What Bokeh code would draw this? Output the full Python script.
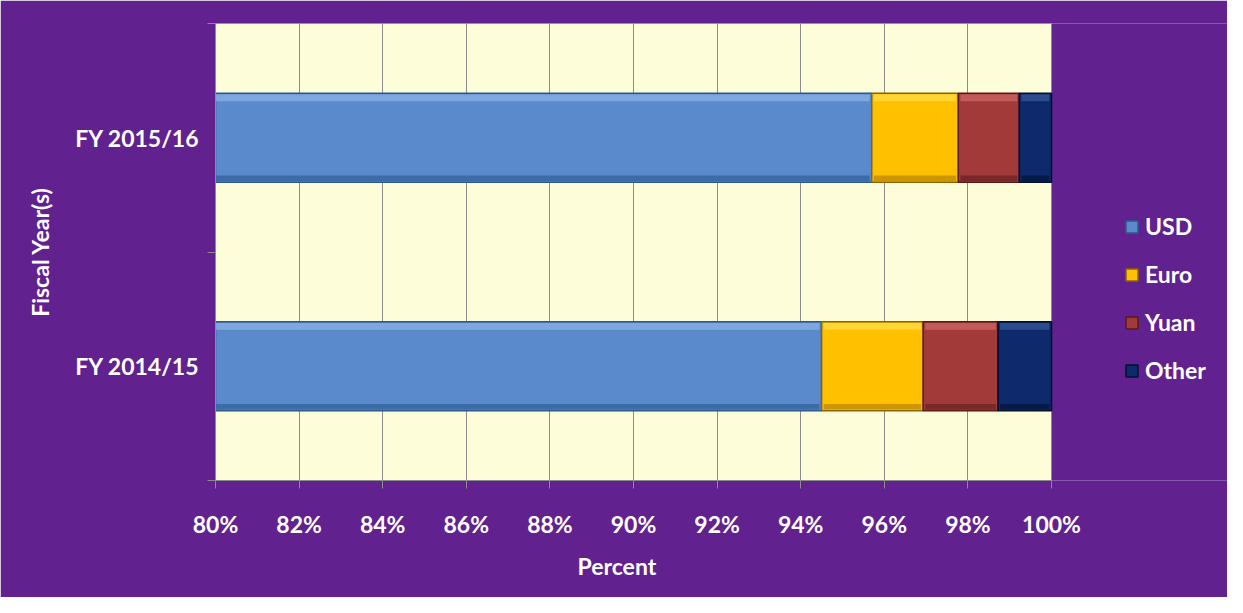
import numpy as np
from bokeh.plotting import figure
from bokeh.models import FixedTicker, PrintfTickFormatter, Legend, LegendItem, Range1d, ColumnDataSource, Title
from bokeh.embed import file_html
from bokeh.resources import INLINE

years = ["FY 2014/15", "FY 2015/16"]
currencies = ["USD", "Euro", "Yuan", "Other"]
usd = [94.5, 95.7]
euro = [2.43, 2.07]
yuan = [1.79, 1.46]
other = [1.28, 0.77]
x_ticks = [80, 82, 84, 86, 88, 90, 92, 94, 96, 98, 100]

colors = ["#5A8ACB", "#FFC000", "#A33A3A", "#0E2A6C"]
light = ["#8DB4E8", "#FFE04A", "#D06A6A", "#3A5A9E"]
dark = ["#33649F", "#C08A00", "#6E2424", "#05173F"]
edge = ["#2E5890", "#8A6400", "#5A1A1A", "#03102E"]

FONT = "Lato"
FS = "23px"
BAR_H = 0.39
PURPLE = "#61218F"

# layout: plot area 836 px wide for the 80-100 span; frame extends further right for the legend
W, H = 1227, 597
LEFT, RIGHT, TOP, BOTTOM = 215, 0, 23, 117
AREA_PX = 836
x0, x1 = x_ticks[0], x_ticks[-1]
frame_px = W - LEFT - RIGHT
x_end = x0 + (x1 - x0) * frame_px / AREA_PX

pos = [i + 0.5 for i in range(len(years))]
data = dict(y=pos, USD=usd, Euro=euro, Yuan=yuan, Other=other)
src = ColumnDataSource(data)

p = figure(width=W, height=H, output_backend="svg", toolbar_location=None,
           x_range=Range1d(x0, x_end), y_range=Range1d(0, len(years)),
           min_border_left=LEFT, min_border_right=RIGHT, min_border_top=TOP, min_border_bottom=BOTTOM)

p.background_fill_color = PURPLE
p.border_fill_color = PURPLE
p.outline_line_color = None

# plot area
p.quad(left=[x0], right=[x1], bottom=[0], top=[len(years)], fill_color="#FDFDD9",
       line_color="#9A9A9A", line_width=1, level="underlay")

p.xaxis.ticker = FixedTicker(ticks=x_ticks)
p.xaxis.formatter = PrintfTickFormatter(format="%d%%")
p.xaxis.bounds = (x0, x1)
p.xgrid.ticker = FixedTicker(ticks=x_ticks)
p.xgrid.grid_line_color = "#8C8C8C"
p.ygrid.grid_line_color = None

renderers = p.hbar_stack(currencies, y="y", height=BAR_H, source=src,
                         color=colors, line_color=edge, line_width=1.5)
for r, c in zip(renderers, edge):
    r.glyph.line_color = c

# bevel highlights / shadows on each segment
series = [usd, euro, yuan, other]
left = np.zeros(len(years))
for vals, lc, dc in zip(series, light, dark):
    v = np.array(vals)
    right = left + v
    y = np.array(pos)
    p.quad(left=left + 0.05, right=right - 0.05, top=y + BAR_H / 2 - 0.006, bottom=y + BAR_H / 2 - 0.035,
           fill_color=lc, fill_alpha=0.7, line_color=None)
    p.quad(left=left + 0.05, right=right - 0.05, top=y - BAR_H / 2 + 0.03, bottom=y - BAR_H / 2 + 0.006,
           fill_color=dc, fill_alpha=0.8, line_color=None)
    left = right

p.yaxis.ticker = FixedTicker(ticks=pos, minor_ticks=list(range(len(years) + 1)))
p.yaxis.major_label_overrides = {pos[i]: years[i] for i in range(len(years))}
p.yaxis.major_tick_out = 0
p.yaxis.major_tick_in = 0
p.yaxis.minor_tick_out = 8
p.yaxis.minor_tick_in = 0
p.xaxis.major_tick_out = 8
p.xaxis.major_tick_in = 0

for ax in (p.xaxis, p.yaxis):
    ax.axis_line_color = "#8C8C8C"
    ax.major_tick_line_color = "#8C8C8C"
    ax.minor_tick_line_color = "#8C8C8C"
    ax.major_label_text_color = "white"
    ax.major_label_text_font = FONT
    ax.major_label_text_font_style = "bold"
    ax.major_label_text_font_size = FS
    ax.axis_label_text_color = "white"
    ax.axis_label_text_font = FONT
    ax.axis_label_text_font_style = "bold"
    ax.axis_label_text_font_size = FS
p.xaxis.minor_tick_line_color = None
p.yaxis.axis_label = "Fiscal Year(s)"
p.xaxis.major_label_standoff = 21
p.yaxis.major_label_standoff = 8
p.yaxis.axis_label_standoff = 18

# x-axis title centred under the 80-100 plot area (not the wider frame)
xtitle = Title(text="Percent", align="left", offset=362, text_color="white", text_font=FONT,
               text_font_style="bold", text_font_size=FS, standoff=18)
p.add_layout(xtitle, "below")

items = [LegendItem(label=c, renderers=[r]) for c, r in zip(currencies, renderers)]
legend = Legend(items=items, location=(909, 86), orientation="vertical",
                background_fill_alpha=0, border_line_color=None,
                label_text_color="white", label_text_font=FONT, label_text_font_style="bold",
                label_text_font_size=FS, glyph_width=15, glyph_height=15,
                label_height=48, spacing=0, padding=0, margin=0, label_standoff=6)
p.add_layout(legend, "center")

open("out.html", "w").write(file_html(p, INLINE))
